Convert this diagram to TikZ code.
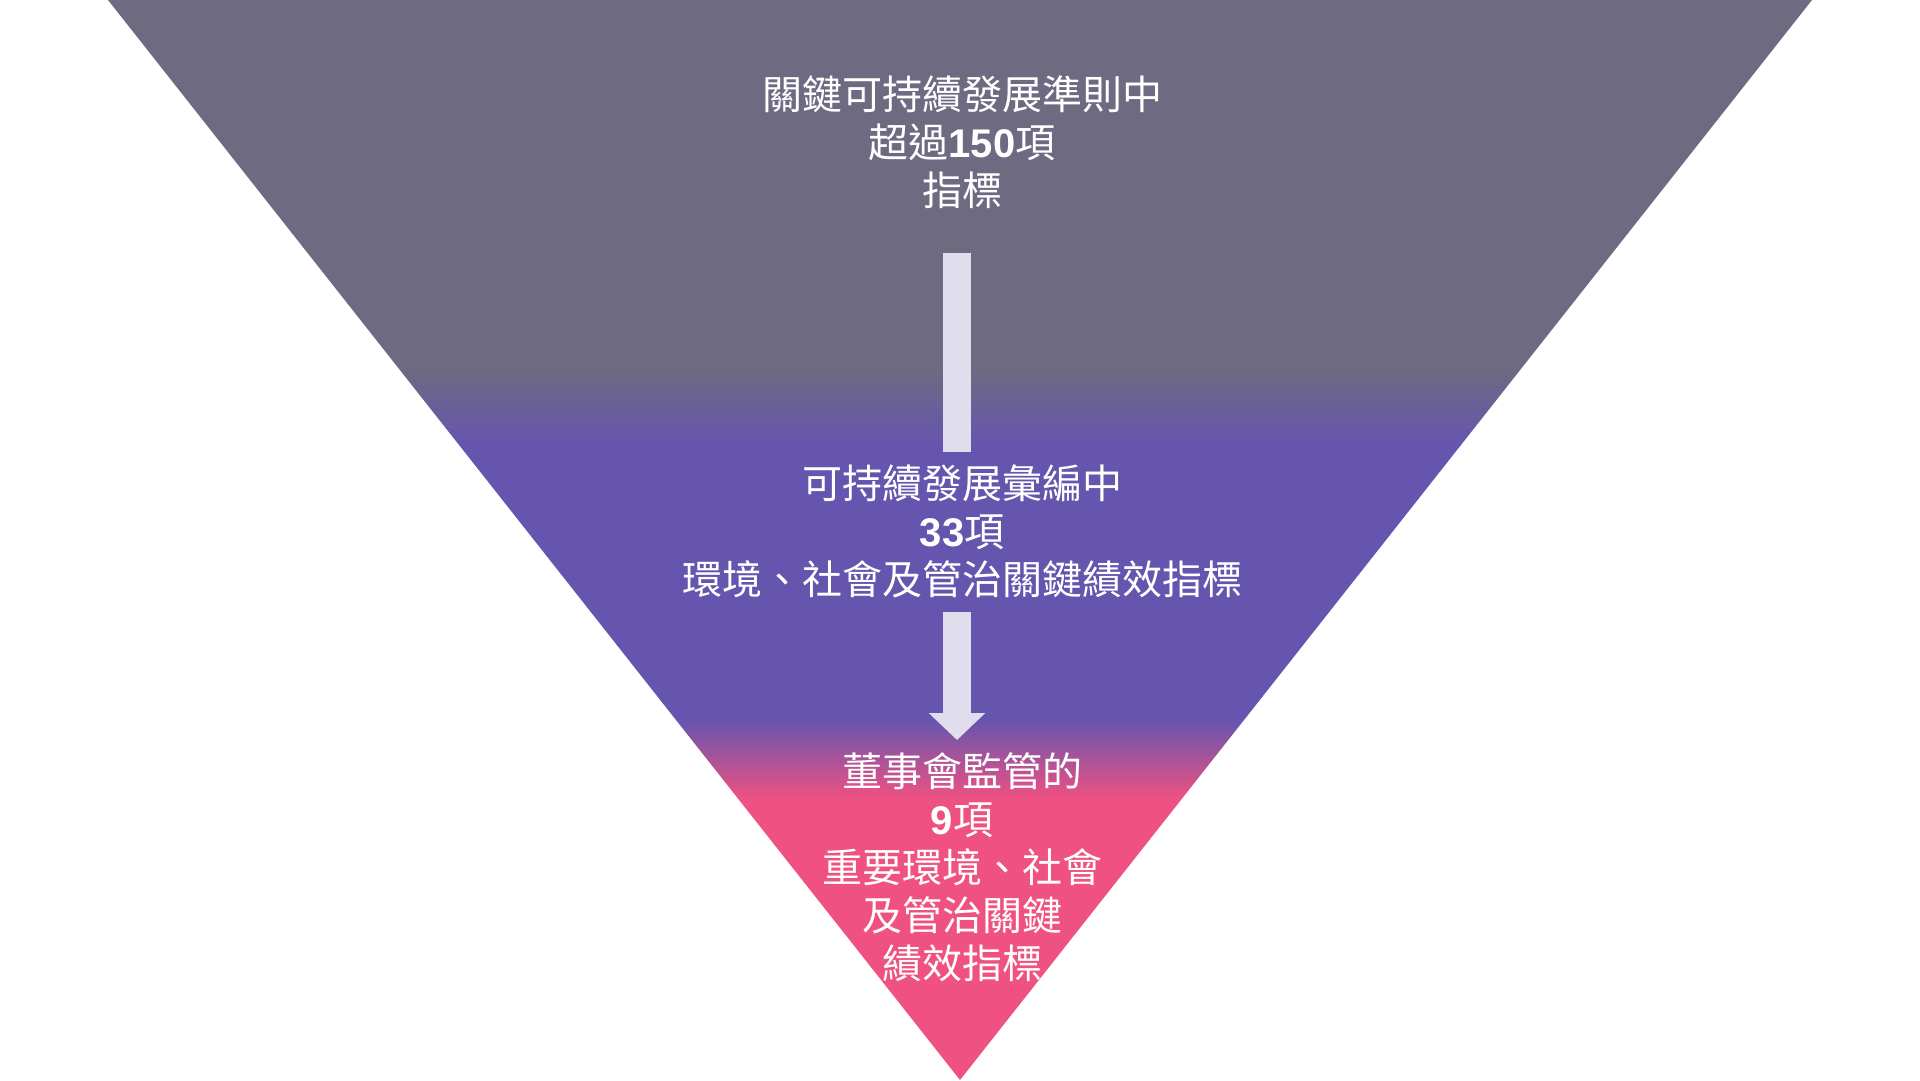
\documentclass[tikz,border=0pt]{standalone}
\usepackage{fontspec}
\usetikzlibrary{arrows.meta,positioning}
\setmainfont{Noto Sans CJK TC}
\newfontfamily\numfont{Liberation Sans}
\newcommand{\kpinum}[1]{{\numfont\bfseries #1}}

\definecolor{funnelgray}{HTML}{6D6A82}
\definecolor{funnelpurple}{HTML}{6655AE}
\definecolor{funnelpink}{HTML}{EF5182}
\definecolor{arrowlav}{HTML}{E0DEEC}

\pgfdeclareverticalshading{funnelshade}{100bp}{color(0bp)=(funnelpink); color(38bp)=(funnelpink); color(41.7bp)=(funnelpurple); color(54.4bp)=(funnelpurple); color(57.9bp)=(funnelgray); color(100bp)=(funnelgray)}

\tikzset{
  kpitext/.style={text=white, align=center, inner sep=0pt, font=\fontsize{40}{48}\selectfont},
  kpibar/.style={draw=arrowlav, line width=28pt}
}

\begin{document}
\begin{tikzpicture}[x=1pt,y=-1pt]
	\useasboundingbox (0,0) rectangle (1920,1080);

	% funnel
	\coordinate (ftl) at (108,0);
	\coordinate (ftr) at (1812,0);
	\coordinate (fbot) at (960,1080);
	\path[shading=funnelshade] (ftl) -- (ftr) -- (fbot) -- cycle;

	% texts
	\node[kpitext] (kpi150) at (962,142) {關鍵可持續發展準則中\\超過\kpinum{150}項\\指標};
	\node[kpitext] (kpi33)  at (962,531) {可持續發展彙編中\\\kpinum{33}項\\環境、社會及管治關鍵績效指標};
	\node[kpitext] (kpi9)   at (962,867) {董事會監管的\\\kpinum{9}項\\重要環境、社會\\及管治關鍵\\績效指標};

	% arrows
	\coordinate (a1s) at (957,253); \coordinate (a1e) at (957,452);
	\coordinate (a2s) at (957,612); \coordinate (a2e) at (957,740);
	\draw[kpibar] (a1s) -- (a1e);
	\draw[kpibar,-{Triangle[width=55pt,length=27pt]}] (a2s) -- (a2e);

\end{tikzpicture}
\end{document}
